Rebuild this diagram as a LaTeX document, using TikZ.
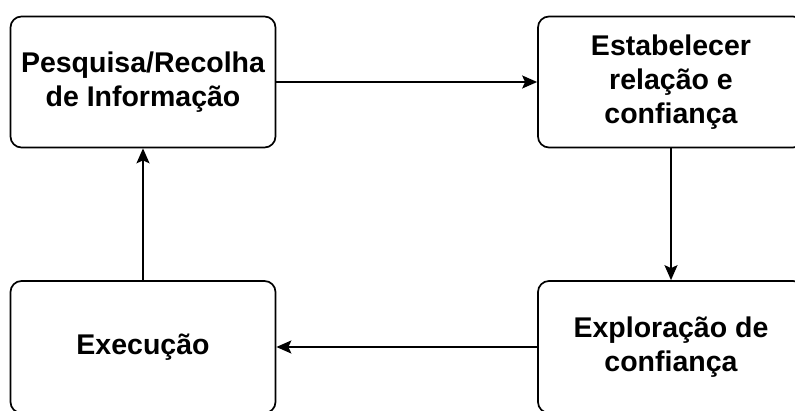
\documentclass[tikz,border=0pt]{standalone}
\usepackage{fontspec}
\setmainfont{Liberation Sans}
\usetikzlibrary{arrows.meta}
\begin{document}
\begin{tikzpicture}[x=1pt,y=-1pt,
  box/.style={draw=black, line width=1.7pt, rounded corners=11pt, fill=white,
    inner sep=0pt, align=center,
    font=\fontsize{28.5}{34}\selectfont\bfseries},
  conn/.style={line width=1.9pt, -{Stealth[length=15pt,width=13pt,inset=3pt]}}]
\useasboundingbox (0,0) rectangle (795,411);
\clip (0,0) rectangle (795,411);
\fill[white] (0,0) rectangle (795,411);
\node[box, minimum width=265pt, minimum height=131pt] (pesq) at (143,82) {Pesquisa/Recolha\\de Informação};
\node[box, minimum width=266pt, minimum height=131pt] (estab) at (671,82) {Estabelecer\\relação e\\confiança};
\node[box, minimum width=265pt, minimum height=132pt] (exec) at (143,347) {Execução};
\node[box, minimum width=266pt, minimum height=132pt] (explo) at (671,347) {Exploração de\\confiança};
\draw[conn] (pesq.east) -- (estab.west);
\draw[conn] (estab.south) -- (explo.north);
\draw[conn] (explo.west) -- (exec.east);
\draw[conn] (exec.north) -- (pesq.south);
\end{tikzpicture}
\end{document}
